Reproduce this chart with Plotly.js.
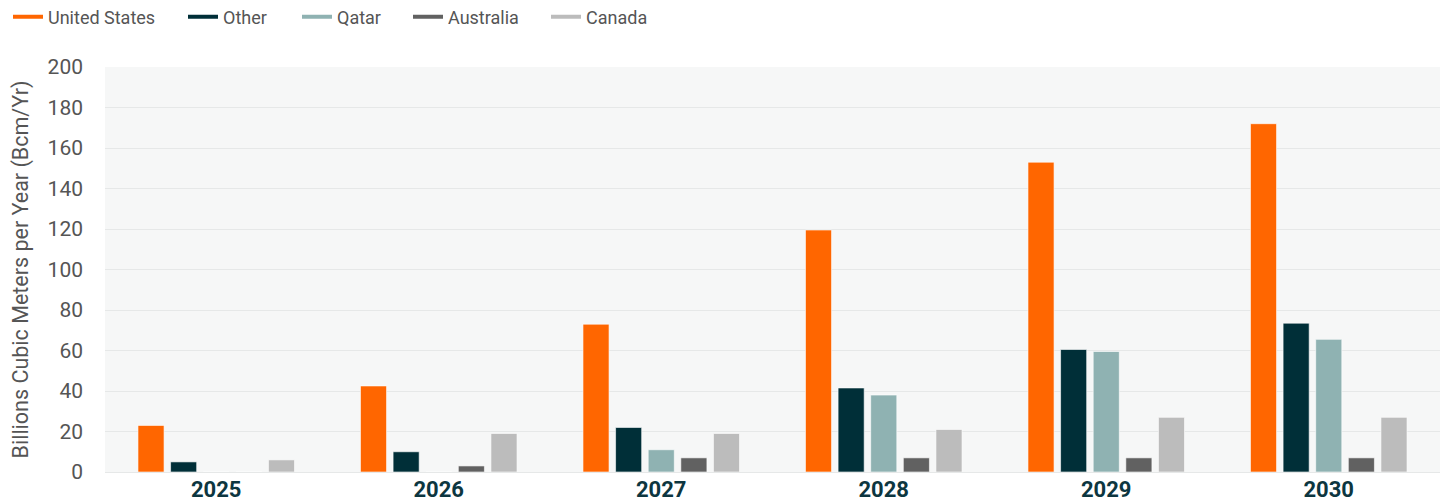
<!DOCTYPE html>
<html><head><meta charset="utf-8">
<script src="https://cdn.plot.ly/plotly-3.0.1.min.js"></script>
<style>body{margin:0;background:#fff}#chart{width:1445px;height:503px}</style>
</head><body><div id="chart"></div>
<script>
const years = ["2025","2026","2027","2028","2029","2030"];
const seriesNames = ["United States","Other","Qatar","Australia","Canada"];
const unitedStates = [23, 42.5, 73, 119.5, 153, 172];
const other = [5, 10, 22, 41.5, 60.5, 73.5];
const qatar = [0, 0, 11, 38, 59.5, 65.5];
const australia = [0, 3, 7, 7, 7, 7];
const canada = [6, 19, 19, 21, 27, 27];
const colors = ["#ff6600","#002f38","#8fb2b2","#616161","#bcbcbc"];
const allValues = [unitedStates, other, qatar, australia, canada];

const FONT = 'Roboto, "Open Sans", sans-serif';
const legendNames = ['legend','legend2','legend3','legend4','legend5'];
const legendLineStart = [16, 191, 305, 416, 554];

const traces = [];
allValues.forEach((vals, i) => {
  traces.push({type:'bar', x: years, y: vals, name: seriesNames[i], showlegend:false,
    marker:{color: colors[i], line:{color:'rgba(255,255,255,0.6)', width:1}}, hoverinfo:'x+y'});
});
allValues.forEach((vals, i) => {
  traces.push({type:'scatter', mode:'lines', x:[null], y:[null], name: seriesNames[i],
    legend: legendNames[i],
    line:{color: colors[i], width:4}, showlegend:true, hoverinfo:'skip'});
});

const layout = {
  width:1445, height:503,
  margin:{l:105, r:5, t:67, b:31, autoexpand:false},
  paper_bgcolor:'#ffffff', plot_bgcolor:'#f6f7f7',
  barmode:'group', bargap:0.267, bargroupgap:0.2,
  font:{family:FONT, color:'#555555'},
  showlegend:true,
  xaxis:{type:'category', tickfont:{size:22, color:'#0d3640', family:FONT, weight:'bold'},
    showgrid:false, zeroline:false, showline:false, ticks:'', ticklabelstandoff:2, fixedrange:true},
  yaxis:{range:[0,200], dtick:20, tick0:0, showgrid:true, gridcolor:'#e6e8e8', gridwidth:1,
    zeroline:true, zerolinecolor:'#e6e8e8', zerolinewidth:1,
    tickfont:{size:21, color:'#555555'}, ticks:'', ticklabelstandoff:21,
    title:{text:'Billions Cubic Meters per Year (Bcm/Yr)', font:{size:21.5, color:'#555555'}, standoff:13},
    fixedrange:true}
};
legendNames.forEach((ln, i) => {
  layout[ln] = {orientation:'h', xref:'container', yref:'container',
    x:(legendLineStart[i]-8)/1445, xanchor:'left', y:1-17/503, yanchor:'middle',
    font:{size:18, color:'#555555', family:FONT}, itemwidth:30, bgcolor:'rgba(0,0,0,0)'};
});
Plotly.newPlot('chart', traces, layout, {displayModeBar:false, responsive:false});
</script></body></html>
